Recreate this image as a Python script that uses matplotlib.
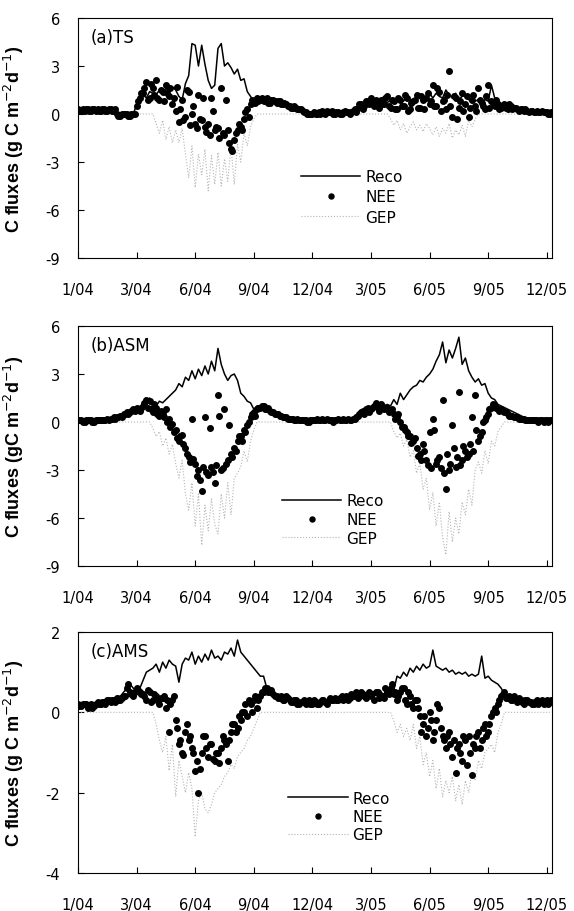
import numpy as np
import matplotlib
matplotlib.use("Agg")
import matplotlib.pyplot as plt
from matplotlib.lines import Line2D

plt.rcParams["font.family"] = ["DejaVu Sans"]
plt.rcParams["axes.unicode_minus"] = False

# day of record (0 = 1 Jan 2004), one value every 5 days
days = np.arange(0, 730, 5)
days2 = np.arange(2, 730, 5)  # extra NEE readings in between
tick_days = [0, 90, 180, 270, 360, 450, 540, 630, 720]
tick_labels = ["1/04", "3/04", "6/04", "9/04", "12/04", "3/05", "6/05", "9/05", "12/05"]

# (a) TS
reco_a = [0.3, 0.2, 0.3, 0.3, 0.2, 0.3, 0.2, 0.3, 0.3, 0.3,
          0.2, 0.3, 0.0, 0.0, 0.0, 0.0, 0.0, 0.0, 0.6, 0.9,
          1.2, 1.0, 1.4, 1.3, 1.2, 1.5, 1.3, 1.6, 1.4, 1.7,
          1.5, 1.1, 0.9, 1.9, 2.4, 4.4, 4.3, 3.0, 4.3, 3.1,
          2.1, 1.6, 1.8, 4.1, 4.4, 3.0, 3.2, 2.9, 2.5, 2.8,
          2.1, 2.2, 1.4, 1.1, 0.8, 1.0, 0.9, 0.9, 0.8, 0.9,
          0.8, 0.7, 0.6, 0.6, 0.5, 0.5, 0.4, 0.3, 0.3, 0.2,
          0.0, 0.0, 0.0, 0.0, 0.0, 0.1, 0.0, 0.1, 0.2, 0.1,
          0.1, 0.0, 0.1, 0.0, 0.1, 0.1, 0.3, 0.4, 0.5, 0.6,
          0.7, 0.8, 0.6, 0.9, 0.8, 0.7, 0.9, 1.0, 0.8, 0.9,
          0.8, 1.1, 0.9, 0.8, 1.0, 1.2, 0.9, 1.1, 1.3, 1.0,
          1.3, 1.1, 1.0, 1.5, 1.2, 1.0, 1.3, 0.9, 1.1, 1.2,
          0.9, 0.7, 0.8, 0.9, 0.7, 0.9, 0.8, 1.8, 1.0, 0.7,
          0.6, 0.5, 0.6, 0.4, 0.5, 0.4, 0.3, 0.3, 0.3, 0.2,
          0.2, 0.2, 0.1, 0.1, 0.1, 0.1]
nee_a = [0.3, 0.2, 0.2, 0.3, 0.2, 0.3, 0.3, 0.2, 0.3, 0.2,
         0.3, 0.2, 0.0, -0.1, 0.0, 0.0, -0.1, 0.0, 0.5, 1.0,
         1.3, 2.0, 1.0, 1.6, 2.1, 0.9, 1.4, 1.8, 1.1, 0.6,
         0.2, -0.5, 0.9, -0.2, 1.4, 0.0, -0.6, 1.2, -0.4, -0.8,
         -0.6, 1.0, -1.0, -0.9, 1.6, -1.3, -1.0, -2.2, -1.6, -1.0,
         -0.8, -0.3, 0.3, 0.6, 0.8, 1.0, 0.9, 0.8, 1.0, 0.7,
         0.9, 0.7, 0.8, 0.6, 0.6, 0.5, 0.4, 0.4, 0.3, 0.2,
         0.1, 0.0, 0.0, 0.0, 0.1, 0.2, 0.0, 0.1, 0.2, 0.0,
         0.1, 0.0, 0.2, 0.1, 0.1, 0.3, 0.4, 0.6, 0.5, 0.8,
         1.0, 0.5, 0.7, 0.9, 0.6, 1.1, 0.4, 0.8, 0.3, 0.9,
         0.5, 1.0, 0.3, 0.8, 1.2, 0.4, 0.9, 1.0, 0.6, 1.8,
         0.5, 1.4, 0.8, 0.3, 2.7, -0.2, 1.0, 0.4, 1.3, 0.6,
         -0.2, 0.9, 0.5, 1.6, 0.7, 0.3, 1.8, 0.8, 0.5, 0.6,
         0.4, 0.6, 0.3, 0.5, 0.4, 0.3, 0.3, 0.2, 0.2, 0.2,
         0.1, 0.2, 0.1, 0.1, 0.1, 0.0]
nee_a2 = [0.2, 0.3, 0.3, 0.2, 0.3, 0.2, 0.2, 0.3, 0.2, 0.3,
          0.2, 0.3, -0.1, 0.0, 0.0, -0.1, 0.0, 0.0, 0.8, 1.3,
          1.6, 0.9, 1.9, 1.2, 1.0, 1.5, 0.8, 1.3, 1.6, 1.0,
          1.7, 0.3, -0.4, 1.5, -0.7, 0.5, -0.9, -0.3, 1.0, -1.1,
          -1.3, 0.2, -0.8, -1.5, -1.2, 0.9, -1.8, -2.3, -1.2, -0.6,
          -1.0, 0.1, -0.2, 0.9, 0.7, 0.8, 1.0, 0.9, 0.7, 0.9,
          0.8, 0.8, 0.6, 0.7, 0.5, 0.4, 0.5, 0.3, 0.3, 0.1,
          0.0, 0.0, 0.1, 0.0, 0.0, 0.1, 0.2, 0.1, 0.0, 0.1,
          0.0, 0.1, 0.1, 0.0, 0.2, 0.1, 0.6, 0.3, 0.8, 0.6,
          0.7, 0.9, 0.4, 0.6, 1.0, 0.5, 0.9, 0.3, 1.0, 0.5,
          1.2, 0.2, 0.7, 0.9, 0.4, 1.1, 0.3, 1.3, 0.8, 0.5,
          1.6, 0.2, 0.9, 1.2, 0.5, 1.1, -0.3, 0.8, 0.2, 1.1,
          0.4, 1.2, 0.2, 0.9, 0.5, 1.1, 0.4, 0.7, 0.9, 0.3,
          0.5, 0.4, 0.6, 0.3, 0.4, 0.2, 0.3, 0.3, 0.1, 0.2,
          0.1, 0.1, 0.2, 0.1, 0.0, 0.1]
gep_a = [0, 0, 0, 0, 0, 0, 0, 0, 0, 0,
         0, 0, 0, 0, 0, 0, 0, 0, 0, 0,
         0, 0, 0, 0, -0.6, -1.2, -0.4, -1.6, -0.8, -1.8,
         -1.0, -1.8, -0.9, -2.5, -4.0, -2.0, -4.6, -2.5, -3.8, -2.2,
         -4.8, -2.6, -4.4, -2.4, -4.5, -2.8, -4.2, -2.0, -4.4, -1.9,
         -3.0, -1.2, -2.0, -0.8, -0.3, 0, 0, 0, 0, 0,
         0, 0, 0, 0, 0, 0, 0, 0, 0, 0,
         0, 0, 0, 0, 0, 0, 0, 0, 0, 0,
         0, 0, 0, 0, 0, 0, 0, 0, 0, 0,
         0, 0, 0, 0, 0, 0, -0.3, -0.7, -0.4, -1.0,
         -0.6, -1.2, -0.8, -0.5, -1.0, -0.7, -1.1, -0.6, -0.9, -1.3,
         -0.8, -1.4, -0.9, -1.2, -0.6, -1.5, -1.0, -1.3, -0.7, -1.4,
         -0.4, -0.8, -0.3, 0, 0, 0, 0, 0, 0, 0,
         0, 0, 0, 0, 0, 0, 0, 0, 0, 0,
         0, 0, 0, 0, 0, 0]

# (b) ASM
reco_b = [0.1, 0.1, 0.1, 0.0, 0.1, 0.1, 0.1, 0.1, 0.2, 0.1,
          0.2, 0.2, 0.3, 0.3, 0.4, 0.5, 0.6, 0.6, 0.7, 0.8,
          0.9, 1.0, 1.5, 1.2, 1.0, 1.3, 1.2, 1.4, 1.6, 1.8,
          2.0, 2.4, 2.2, 2.8, 2.6, 3.2, 2.7, 3.3, 2.9, 3.5,
          3.0, 3.8, 3.2, 4.6, 3.6, 3.0, 2.6, 2.9, 3.0, 2.6,
          1.8, 1.6, 1.3, 1.2, 0.8, 1.0, 1.0, 0.9, 0.8, 0.8,
          0.7, 0.6, 0.5, 0.4, 0.3, 0.3, 0.2, 0.2, 0.2, 0.1,
          0.1, 0.1, 0.1, 0.2, 0.1, 0.1, 0.1, 0.1, 0.0, 0.1,
          0.1, 0.2, 0.2, 0.1, 0.2, 0.2, 0.5, 0.7, 0.6, 0.9,
          0.7, 0.8, 0.8, 0.9, 1.0, 1.1, 1.0, 1.4, 1.1, 1.8,
          1.4, 1.7, 2.0, 2.2, 2.3, 2.6, 2.5, 2.8, 3.0, 3.3,
          3.8, 4.2, 5.0, 3.7, 4.5, 4.0, 4.6, 5.3, 3.6, 4.0,
          3.2, 2.8, 2.5, 2.7, 2.3, 2.4, 1.8, 1.5, 1.4, 1.1,
          1.0, 0.9, 0.8, 0.7, 0.6, 0.5, 0.4, 0.3, 0.2, 0.2,
          0.1, 0.1, 0.1, 0.0, 0.1, 0.1]
nee_b = [0.1, 0.1, 0.0, 0.1, 0.1, 0.0, 0.1, 0.1, 0.1, 0.2,
         0.2, 0.3, 0.3, 0.4, 0.5, 0.6, 0.6, 0.8, 0.9, 0.7,
         1.0, 1.4, 1.3, 0.6, 0.9, 0.4, 0.5, 0.8, 0.2, -0.1,
         -0.5, -1.2, -0.8, -1.6, -2.2, 0.2, -2.6, -3.0, -4.3, 0.3,
         -3.3, -2.8, -3.8, 1.7, -3.0, 0.8, -2.4, -2.0, -1.6, -1.2,
         -0.9, -0.5, -0.2, 0.3, 0.6, 0.8, 0.9, 1.0, 0.8, 0.7,
         0.6, 0.5, 0.4, 0.3, 0.3, 0.2, 0.2, 0.1, 0.1, 0.1,
         0.1, 0.0, 0.1, 0.1, 0.1, 0.2, 0.1, 0.1, 0.1, 0.1,
         0.2, 0.1, 0.1, 0.2, 0.1, 0.2, 0.4, 0.6, 0.5, 0.9,
         0.8, 1.0, 0.9, 1.1, 0.8, 0.9, 0.7, 0.5, 0.3, 0.0,
         -0.3, -0.6, -0.9, -1.2, -1.6, -2.0, -1.4, -2.4, -0.6, 0.2,
         -2.6, -2.2, 1.4, -4.2, -3.0, -0.2, -2.8, 1.9, -2.4, -1.8,
         -2.0, 0.3, 1.7, -1.2, -0.6, 0.1, 0.5, 0.9, 1.0, 0.8,
         0.8, 0.6, 0.5, 0.4, 0.3, 0.3, 0.2, 0.2, 0.1, 0.1,
         0.1, 0.1, 0.1, 0.0, 0.1, 0.1]
nee_b2 = [0.1, 0.0, 0.1, 0.1, 0.0, 0.1, 0.1, 0.1, 0.1, 0.1,
          0.2, 0.2, 0.3, 0.3, 0.5, 0.5, 0.7, 0.7, 0.8, 0.9,
          1.2, 0.9, 0.8, 1.1, 0.5, 0.7, 0.3, 0.0, -0.3, -0.6,
          -1.0, -0.9, -1.4, -2.0, -2.5, -2.3, -3.4, -3.6, -2.8, -3.1,
          -0.4, -3.1, -2.7, 0.4, -2.9, -2.6, -0.2, -2.2, -1.8, -0.9,
          -1.2, -0.6, 0.0, 0.5, 0.4, 0.9, 1.0, 0.8, 0.9, 0.6,
          0.5, 0.5, 0.4, 0.3, 0.2, 0.2, 0.1, 0.2, 0.1, 0.1,
          0.0, 0.1, 0.1, 0.2, 0.1, 0.1, 0.2, 0.1, 0.0, 0.1,
          0.1, 0.2, 0.1, 0.1, 0.2, 0.3, 0.5, 0.7, 0.8, 0.6,
          0.9, 1.2, 0.7, 1.0, 0.9, 0.6, 0.8, 0.2, 0.5, -0.3,
          -0.5, -0.9, -1.3, -1.0, -2.1, -2.4, -1.8, -2.7, -2.9, -0.5,
          -2.4, -2.9, -3.2, -2.0, -2.6, -1.6, -2.2, -2.7, -1.5, -2.2,
          -1.4, -1.8, -0.5, -0.9, 0.0, 0.3, 0.8, 1.1, 0.9, 0.7,
          0.7, 0.6, 0.4, 0.4, 0.3, 0.2, 0.2, 0.1, 0.1, 0.1,
          0.1, 0.0, 0.1, 0.1, 0.0, 0.1]
gep_b = [0, 0, 0, 0, 0, 0, 0, 0, 0, 0,
         0, 0, 0, 0, 0, 0, 0, 0, 0, 0,
         0, 0, 0, -0.4, -0.9, -0.6, -1.5, -1.0, -2.0, -1.4,
         -2.6, -3.5, -2.4, -4.5, -5.5, -3.8, -6.5, -4.5, -7.7, -5.2,
         -6.8, -4.8, -6.4, -7.0, -4.5, -6.0, -3.8, -5.8, -3.5, -3.2,
         -2.8, -1.8, -2.5, -1.2, -0.5, 0, 0, 0, 0, 0,
         0, 0, 0, 0, 0, 0, 0, 0, 0, 0,
         0, 0, 0, 0, 0, 0, 0, 0, 0, 0,
         0, 0, 0, 0, 0, 0, 0, 0, 0, 0,
         0, 0, 0, 0, 0, 0, 0, -0.6, -1.0, -0.7,
         -1.5, -1.1, -2.2, -1.8, -3.2, -2.6, -4.2, -3.5, -5.5, -4.4,
         -6.5, -5.0, -7.2, -8.3, -5.6, -7.5, -6.0, -7.0, -5.0, -5.8,
         -4.2, -5.2, -3.0, -2.5, -3.2, -1.8, -2.6, -1.2, -1.5, -0.6,
         -0.3, 0, 0, 0, 0, 0, 0, 0, 0, 0,
         0, 0, 0, 0, 0, 0]

# (c) AMS
reco_c = [0.2, 0.2, 0.2, 0.15, 0.2, 0.2, 0.25, 0.2, 0.3, 0.3,
          0.3, 0.35, 0.4, 0.4, 0.5, 0.6, 0.7, 0.6, 0.5, 0.6,
          0.8, 1.0, 1.05, 1.1, 1.2, 1.0, 1.25, 1.1, 1.3, 1.2,
          1.15, 0.75, 1.2, 1.35, 1.3, 1.5, 1.2, 1.4, 1.25, 1.45,
          1.3, 1.55, 1.35, 1.4, 1.3, 1.5, 1.45, 1.6, 1.4, 1.8,
          1.5, 1.4, 1.3, 1.2, 1.1, 1.0, 0.9, 0.9, 0.6, 0.6,
          0.5, 0.45, 0.4, 0.4, 0.35, 0.3, 0.3, 0.25, 0.3, 0.2,
          0.25, 0.2, 0.25, 0.2, 0.2, 0.25, 0.2, 0.3, 0.25, 0.3,
          0.3, 0.35, 0.3, 0.4, 0.35, 0.4, 0.35, 0.4, 0.45, 0.4,
          0.4, 0.45, 0.4, 0.5, 0.45, 0.6, 0.5, 0.55, 0.9, 0.85,
          1.0, 0.9, 1.1, 1.0, 1.15, 1.05, 1.2, 1.1, 1.15, 1.55,
          1.15, 1.1, 1.05, 1.1, 1.0, 1.05, 0.95, 1.0, 0.95, 1.0,
          0.9, 0.95, 0.9, 0.95, 1.4, 0.85, 0.9, 0.8, 0.75, 0.7,
          0.6, 0.45, 0.4, 0.35, 0.35, 0.3, 0.3, 0.35, 0.3, 0.25,
          0.3, 0.25, 0.3, 0.2, 0.25, 0.25]
nee_c = [0.2, 0.15, 0.2, 0.1, 0.2, 0.15, 0.25, 0.2, 0.25, 0.3,
         0.25, 0.3, 0.35, 0.3, 0.4, 0.6, 0.5, 0.4, 0.6, 0.5,
         0.45, 0.3, 0.5, 0.3, 0.4, 0.2, 0.35, 0.1, -0.5, 0.3,
         -0.2, -0.8, -1.0, -0.5, -0.7, -0.9, -1.45, -2.0, -1.0, -0.6,
         -1.1, -0.8, -1.2, -1.0, -0.9, -0.7, -1.2, -0.5, -0.3, -0.4,
         -0.2, 0.0, -0.1, 0.2, 0.3, 0.1, 0.4, 0.5, 0.6, 0.5,
         0.45, 0.4, 0.35, 0.3, 0.4, 0.3, 0.25, 0.3, 0.2, 0.25,
         0.2, 0.3, 0.2, 0.25, 0.2, 0.3, 0.25, 0.3, 0.3, 0.35,
         0.3, 0.4, 0.35, 0.3, 0.45, 0.4, 0.35, 0.5, 0.4, 0.45,
         0.4, 0.3, 0.5, 0.4, 0.35, 0.5, 0.6, 0.45, 0.3, 0.5,
         0.6, 0.2, 0.4, 0.1, 0.3, -0.1, -0.3, -0.6, 0.0, -0.7,
         -0.2, 0.1, -0.6, -0.9, -0.5, -1.1, -1.5, -0.8, -1.2, -0.7,
         -0.6, -1.55, -0.9, -0.5, -0.7, -0.3, -0.5, -0.1, 0.1, 0.2,
         0.4, 0.5, 0.35, 0.3, 0.4, 0.25, 0.3, 0.2, 0.3, 0.25,
         0.2, 0.3, 0.25, 0.2, 0.3, 0.25]
nee_c2 = [0.15, 0.2, 0.2, 0.15, 0.1, 0.2, 0.2, 0.25, 0.2, 0.3,
          0.3, 0.25, 0.3, 0.35, 0.4, 0.7, 0.45, 0.5, 0.55, 0.45,
          0.4, 0.55, 0.25, 0.45, 0.3, 0.35, 0.4, 0.3, 0.2, 0.4,
          -0.4, -0.7, -1.05, -0.3, -0.6, -1.0, -1.2, -1.4, -0.6, -0.9,
          -0.8, -1.15, -1.0, -1.25, -0.6, -0.8, -0.7, -0.3, -0.5, -0.1,
          0.0, 0.2, 0.3, 0.0, 0.4, 0.3, 0.5, 0.6, 0.5, 0.55,
          0.4, 0.35, 0.4, 0.3, 0.35, 0.25, 0.3, 0.2, 0.25, 0.3,
          0.25, 0.2, 0.3, 0.2, 0.25, 0.3, 0.2, 0.35, 0.3, 0.3,
          0.35, 0.3, 0.4, 0.35, 0.4, 0.5, 0.4, 0.45, 0.35, 0.5,
          0.45, 0.5, 0.35, 0.4, 0.6, 0.45, 0.7, 0.5, 0.4, 0.6,
          0.3, 0.5, 0.2, 0.3, 0.1, -0.5, -0.1, -0.4, -0.2, -0.5,
          0.2, -0.4, -0.7, -0.6, -0.8, -0.7, -0.9, -1.0, -0.6, -1.3,
          -1.0, -0.8, -0.6, -0.9, -0.4, -0.6, -0.3, 0.0, 0.0, 0.3,
          0.45, 0.35, 0.4, 0.3, 0.3, 0.35, 0.25, 0.3, 0.25, 0.2,
          0.25, 0.2, 0.3, 0.25, 0.2, 0.3]
gep_c = [0, 0, 0, 0, 0, 0, 0, 0, 0, 0,
         0, 0, 0, 0, 0, 0, 0, 0, 0, 0,
         0, 0, 0, 0, -0.3, -0.7, -1.0, -0.6, -1.45, -0.8,
         -2.1, -1.2, -1.6, -2.0, -1.5, -1.9, -3.1, -2.2, -2.0, -2.4,
         -2.5, -2.3, -2.0, -1.9, -1.8, -1.6, -1.5, -1.3, -1.4, -1.1,
         -1.0, -0.9, -0.7, -0.6, -0.4, -0.2, 0, 0, 0, 0,
         0, 0, 0, 0, 0, 0, 0, 0, 0, 0,
         0, 0, 0, 0, 0, 0, 0, 0, 0, 0,
         0, 0, 0, 0, 0, 0, 0, 0, 0, 0,
         0, 0, 0, 0, 0, 0, 0, -0.2, -0.5, -0.3,
         -0.6, -0.4, -0.7, -0.3, -0.9, -0.6, -1.3, -1.0, -1.6, -1.2,
         -1.9, -1.4, -2.1, -1.7, -2.0, -1.6, -2.2, -1.8, -2.3, -1.7,
         -2.0, -1.5, -1.7, -1.2, -1.4, -1.0, -0.9, -0.8, -1.0, -0.5,
         -0.3, 0, 0, 0, 0, 0, 0, 0, 0, 0,
         0, 0, 0, 0, 0, 0]

panels = [
    ("(a)TS", reco_a, nee_a, nee_a2, gep_a, [-9, -6, -3, 0, 3, 6], "C fluxes (g C m$^{-2}$d$^{-1}$)"),
    ("(b)ASM", reco_b, nee_b, nee_b2, gep_b, [-9, -6, -3, 0, 3, 6], "C fluxes (gC m$^{-2}$d$^{-1}$)"),
    ("(c)AMS", reco_c, nee_c, nee_c2, gep_c, [-4, -2, 0, 2], "C fluxes (g C m$^{-2}$d$^{-1}$)"),
]
# axes boxes in figure pixels: left, right, top, bottom
boxes = [(78, 552, 19, 259), (78, 552, 327, 567), (78, 552, 633, 874)]
# legend anchor (axes fraction) and row spacing per panel
leg_pos = [(0.47, 0.371), (0.43, 0.304), (0.443, 0.342)]
leg_space = [0.35, 0.25, 0.22]

W, H = 574, 912
fig = plt.figure(figsize=(W / 100, H / 100), dpi=100)
gray = "#b4b4b4"

for (name, reco, nee, nee2, gep, yt, ylab), (l, r, t, b), lp, ls in zip(panels, boxes, leg_pos, leg_space):
    ax = fig.add_axes([l / W, 1 - b / H, (r - l) / W, (b - t) / H])
    ax.plot(days, gep, color=gray, lw=0.8, ls=":")
    ax.plot(days, reco, color="black", lw=1.1)
    ax.plot(days, nee, "o", color="black", ms=4.0)
    ax.plot(days2, nee2, "o", color="black", ms=4.0)
    ax.set_xlim(0, 728)
    ax.set_ylim(yt[0], yt[-1])
    ax.set_yticks(yt)
    ax.set_xticks(tick_days)
    ax.set_xticklabels(tick_labels)
    ax.tick_params(direction="in", length=4, labelsize=10.5)
    ax.tick_params(axis="x", pad=17)
    ax.tick_params(axis="y", pad=13)
    ax.set_ylabel(ylab, fontsize=13, fontweight="bold", family="Liberation Sans")
    ax.yaxis.set_label_coords(-0.11, 0.5)
    ax.text(0.027, 0.92, name, transform=ax.transAxes, fontsize=12, va="center")
    handles = [Line2D([], [], color="black", lw=1.1),
               Line2D([], [], ls="none", marker="o", color="black", ms=3.6),
               Line2D([], [], color=gray, lw=0.8, ls=":")]
    ax.legend(handles, ["Reco", "NEE", "GEP"], loc="upper left", bbox_to_anchor=lp,
              frameon=False, fontsize=11, handlelength=3.9, handletextpad=0.33,
              labelspacing=ls, borderpad=0, borderaxespad=0)

fig.savefig("out.png", dpi=100)
